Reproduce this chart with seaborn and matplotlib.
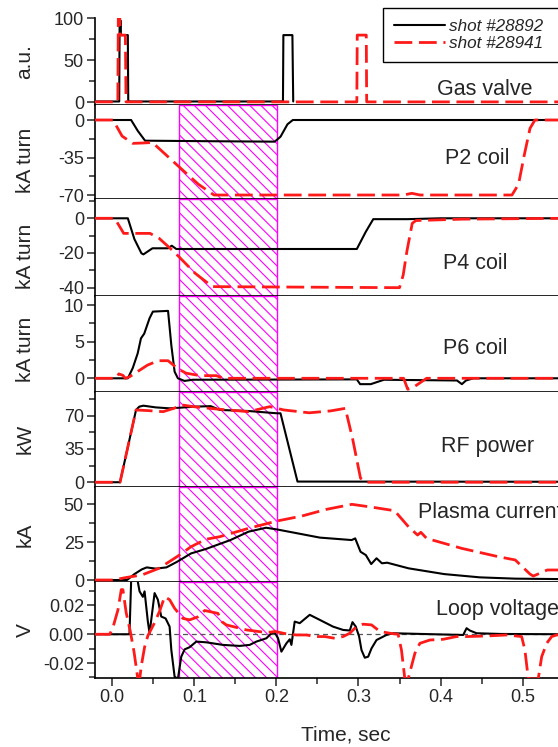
import matplotlib
matplotlib.use("Agg")

import matplotlib.pyplot as plt
from matplotlib.ticker import MultipleLocator, FormatStrFormatter
import pandas as pd
import seaborn as sns

sns.set_style("ticks")
plt.rcParams['font.family'] = ['Liberation Sans', 'DejaVu Sans']
plt.rcParams['axes.unicode_minus'] = False
plt.rcParams['hatch.linewidth'] = 0.8

shots = ["shot #28892", "shot #28941"]

# (time in s, value), shot #28892 = a, shot #28941 = b
gas_a = [(-0.021, 1), (0.0085, 1), (0.009, 97), (0.0105, 97), (0.0105, 80), (0.019, 80),
         (0.0195, 1), (0.208, 1), (0.2085, 80), (0.2195, 80), (0.2205, 1)]
gas_b = [(-0.021, 0.5), (0.0068, 0.5), (0.0074, 100), (0.0092, 100), (0.0095, 80), (0.016, 80),
         (0.0168, 0.5), (0.298, 0.5), (0.2985, 80), (0.3095, 80), (0.31, 0.5), (0.55, 0.5)]

p2_a = [(-0.021, 0), (0.023, 0), (0.031, -10), (0.040, -19.3), (0.120, -19.8), (0.198, -20.2),
        (0.205, -15.6), (0.2135, -4), (0.220, 0), (0.55, 0)]
p2_b = [(-0.021, 0), (0.001, 0), (0.012, -15), (0.025, -21.8), (0.036, -21.5), (0.049, -21),
        (0.079, -42), (0.105, -60), (0.124, -70), (0.355, -70), (0.365, -68.4), (0.375, -70),
        (0.487, -70), (0.495, -60), (0.502, -32.7), (0.509, -7.8), (0.515, 0), (0.55, 0)]

p4_a = [(-0.021, 0), (0.019, 0), (0.027, -12), (0.0356, -20.2), (0.038, -20.8), (0.049, -17.3),
        (0.068, -17.3), (0.0725, -15.8), (0.078, -17.7), (0.298, -17.7), (0.309, -7.7),
        (0.318, -0.5), (0.36, -0.5), (0.40, 0), (0.55, 0)]
p4_b = [(-0.021, 0), (0.003, 0), (0.014, -8.7), (0.046, -8.7), (0.057, -11.5), (0.075, -19.2),
        (0.083, -23), (0.101, -31.7), (0.122, -39.4), (0.350, -40), (0.3545, -32.7),
        (0.359, -19), (0.3655, -2.9), (0.370, -1.3), (0.426, -0.5), (0.55, 0)]

p6_a = [(-0.021, 0), (0.019, 0), (0.025, 1.4), (0.031, 3.4), (0.035, 5.45), (0.039, 6.1),
        (0.0455, 8.2), (0.0495, 9.1), (0.068, 9.2), (0.072, 4.5), (0.076, 0.9), (0.080, 0),
        (0.088, -0.36), (0.098, -0.2), (0.298, -0.15), (0.302, -0.8), (0.315, -0.8),
        (0.331, -0.2), (0.42, -0.3), (0.426, -0.8), (0.431, -0.3), (0.44, 0), (0.55, 0)]
p6_b = [(-0.021, 0), (0.005, 0), (0.008, 0.6), (0.013, 0.4), (0.016, 0), (0.021, 0.2),
        (0.043, 1.8), (0.056, 2.4), (0.068, 2.4), (0.080, 1.3), (0.090, 0.7), (0.107, 0.36),
        (0.127, 0.36), (0.135, 0), (0.355, 0), (0.360, -1.5), (0.366, -1.3), (0.383, 0), (0.55, 0)]

rf_a = [(-0.021, 0), (0.0095, 0), (0.029, 76), (0.033, 79.5), (0.038, 80.5), (0.053, 78.7),
        (0.070, 77.7), (0.083, 78.4), (0.101, 79.5), (0.120, 80), (0.131, 76), (0.166, 74.9),
        (0.2005, 72.5), (0.205, 72.5), (0.2257, 0.7), (0.55, 0.5)]
rf_b = [(-0.021, 0), (0.0095, 0), (0.029, 76), (0.044, 75.3), (0.062, 74.2), (0.075, 77.7),
        (0.0855, 81.2), (0.0985, 79.5), (0.127, 77), (0.166, 74.2), (0.192, 79.5), (0.209, 76),
        (0.240, 73), (0.266, 75), (0.284, 77.7), (0.293, 45), (0.3025, 4.2), (0.309, 0), (0.55, 0)]

ip_a = [(-0.021, 0), (0.018, 0), (0.027, 3.9), (0.036, 7), (0.042, 8.3), (0.053, 7.5),
        (0.066, 8.3), (0.079, 12), (0.096, 17.5), (0.114, 20.4), (0.144, 26.3), (0.166, 31.8),
        (0.1875, 34.4), (0.2005, 33.3), (0.222, 31.1), (0.253, 27.9), (0.2917, 26.3),
        (0.296, 27.4), (0.3025, 18.6), (0.309, 16.4), (0.3155, 10.5), (0.322, 14.3),
        (0.3286, 11), (0.335, 11.4), (0.361, 7.7), (0.4045, 3.9), (0.448, 1.75), (0.491, 0.9),
        (0.55, 0.6)]
ip_b = [(-0.021, 0), (0.001, 0), (0.018, 1.75), (0.036, 3.3), (0.057, 7.7), (0.079, 15.4),
        (0.096, 21.9), (0.114, 26.8), (0.131, 28.5), (0.166, 34), (0.2005, 38.8), (0.231, 42.1),
        (0.261, 46.5), (0.292, 49.8), (0.318, 47.8), (0.344, 45.6), (0.361, 35), (0.372, 29.6),
        (0.376, 31.4), (0.383, 27.4), (0.426, 20.8), (0.470, 15.4), (0.491, 13.2), (0.509, 3.9),
        (0.513, 2.6), (0.530, 6.6), (0.55, 6.6)]

lv_a = [(-0.021, 0), (0.021, 0), (0.0232, 0.04), (0.030, 0.04), (0.0333, 0.0298), (0.0373, 0.026),
        (0.0394, 0.0298), (0.0434, 0.0088), (0.0455, 0.0007), (0.0495, 0.019), (0.0516, 0.0286),
        (0.0556, 0.024), (0.0597, 0.0123), (0.065, 0.011), (0.0699, 0.0053), (0.072, -0.011),
        (0.076, -0.0295), (0.080, -0.031), (0.0841, -0.0156), (0.0882, -0.0105), (0.0943, -0.009),
        (0.1024, -0.0051), (0.1146, -0.0056), (0.1349, -0.0074), (0.1552, -0.0081),
        (0.1674, -0.0074), (0.1756, -0.0051), (0.1878, -0.0028), (0.1939, 0.0007),
        (0.198, 0.0012), (0.202, -0.0028), (0.2061, -0.0121), (0.2122, -0.0063),
        (0.2163, -0.0035), (0.2183, -0.0074), (0.2223, 0.0088), (0.2284, 0.0077),
        (0.2406, 0.0135), (0.2528, 0.010), (0.269, 0.0053), (0.2813, 0.003), (0.2894, 0.0026),
        (0.2927, 0.0084), (0.2967, 0.0053), (0.3008, -0.0016), (0.3037, -0.011),
        (0.3077, -0.0163), (0.3118, -0.0156), (0.3159, -0.0098), (0.322, -0.004),
        (0.3341, -0.0005), (0.3423, 0.0007), (0.391, 0), (0.4276, -0.0005), (0.4317, 0.0042),
        (0.4357, 0.0026), (0.4439, 0.0007), (0.473, 0.0002), (0.55, 0)]
lv_b = [(-0.021, 0), (-0.003, 0), (0.001, 0.005), (0.007, 0.017), (0.011, 0.031), (0.013, 0.031),
        (0.017, 0.015), (0.022, 0.002), (0.0265, -0.012), (0.0312, -0.031), (0.0335, -0.031),
        (0.0354, -0.022), (0.0394, -0.009), (0.0434, -0.001), (0.0516, 0.008), (0.0577, 0.016),
        (0.0638, 0.026), (0.0699, 0.024), (0.076, 0.018), (0.0861, 0.011), (0.0943, 0.010),
        (0.104, 0.012), (0.1126, 0.0165), (0.1288, 0.0145), (0.134, 0.0085), (0.139, 0.0065),
        (0.1634, 0.003), (0.1837, 0.0015), (0.1939, 0.0015), (0.198, 0.002), (0.21, 0.0005),
        (0.2244, -0.0005), (0.2366, -0.0005), (0.2467, -0.0016), (0.2589, -0.0016),
        (0.2711, -0.0028), (0.2813, -0.0016), (0.2894, 0.0007), (0.2976, 0.0053),
        (0.3056, 0.007), (0.3159, 0.0065), (0.326, 0.002), (0.3382, 0.0007), (0.3483, 0),
        (0.3524, -0.011), (0.3565, -0.031), (0.3605, -0.031), (0.3687, -0.0133),
        (0.3748, -0.0063), (0.387, -0.004), (0.4032, -0.0035), (0.4195, -0.0016),
        (0.4317, -0.0016), (0.4561, -0.0012), (0.4805, -0.0005), (0.4988, -0.0016),
        (0.5028, -0.011), (0.5069, -0.031), (0.519, -0.031), (0.5232, -0.0156),
        (0.5293, -0.0063), (0.5354, -0.0016), (0.5415, -0.0005), (0.55, 0)]

panel_labels = ["Gas valve", "P2 coil", "P4 coil", "P6 coil", "RF power", "Plasma current", "Loop voltage"]
y_labels = ["a.u.", "kA turn", "kA turn", "kA turn", "kW", "kA", "V"]
series = [(gas_a, gas_b), (p2_a, p2_b), (p4_a, p4_b), (p6_a, p6_b), (rf_a, rf_b), (ip_a, ip_b), (lv_a, lv_b)]
y_lims = [(-3.2, 100), (-74, 14), (-44.8, 10.95), (-1.83, 11.23), (-4.7, 95.2), (-1.3, 61.4), (-0.0306, 0.0363)]
y_major = [50, 35, 20, 5, 35, 25, 0.02]
y_fmt = ["%d", "%d", "%d", "%d", "%d", "%d", "%.2f"]
# where each panel's text sits (axes fraction)
text_pos = [(0.681, 0.115), (0.697, 0.371), (0.693, 0.279), (0.693, 0.391), (0.690, 0.368),
            (0.644, 0.668), (0.679, 0.657)]
ylab_y = [0.5, 0.41, 0.414, 0.446, 0.5, 0.5, 0.5]
heights = [86.7, 94.3, 96.7, 95.7, 95, 95.3, 96.3]
shade = (0.0815, 0.2006)

fig = plt.figure(figsize=(5.58, 7.47), dpi=100)
axes = fig.subplots(7, 1, sharex=True, gridspec_kw=dict(height_ratios=heights, hspace=0))
fig.subplots_adjust(left=95 / 558, right=596.5 / 558, top=1 - 18.3 / 747, bottom=1 - 678.3 / 747)

red_dash = (0, (6.4, 2.4))

for i, ax in enumerate(axes):
    a, b = series[i]
    da = pd.DataFrame(a, columns=["t", "v"])
    db = pd.DataFrame(b, columns=["t", "v"])
    if i > 0:
        ax.axvspan(*shade, facecolor="none", edgecolor="#ff00ff", hatch="\\\\\\", lw=1.0, zorder=0.5)
    if i == 6:
        ax.axhline(0, color="#555555", lw=0.9, ls=(0, (4, 3)), zorder=1)
    sns.lineplot(data=da, x="t", y="v", ax=ax, sort=False, estimator=None, color="black",
                 lw=1.5, label=shots[0] if i == 0 else None, legend=False, zorder=3)
    sns.lineplot(data=db, x="t", y="v", ax=ax, sort=False, estimator=None, color="#ff1a1a",
                 lw=2.0, linestyle=red_dash, label=shots[1] if i == 0 else None,
                 legend=False, zorder=4)
    ax.set_xlim(-0.021, 0.59)
    ax.set_ylim(*y_lims[i])
    ax.yaxis.set_major_locator(MultipleLocator(y_major[i]))
    ax.yaxis.set_minor_locator(MultipleLocator(y_major[i] / 2))
    ax.yaxis.set_major_formatter(FormatStrFormatter(y_fmt[i]))
    ax.xaxis.set_major_locator(MultipleLocator(0.1))
    ax.xaxis.set_minor_locator(MultipleLocator(0.05))
    ax.tick_params(which="both", direction="out", width=1.1, labelsize=13, pad=2)
    ax.tick_params(which="major", length=6)
    ax.tick_params(which="minor", length=4)
    ax.set_ylabel(y_labels[i], fontsize=15)
    ax.yaxis.set_label_coords(-0.1206, ylab_y[i])
    ax.set_xlabel("")
    for s in ["top", "right"]:
        ax.spines[s].set_visible(False)
    for s in ["left", "bottom"]:
        ax.spines[s].set_linewidth(1.2)
        ax.spines[s].set_color("black")
    ax.text(*text_pos[i], panel_labels[i], transform=ax.transAxes, fontsize=15.5,
            ha="left", va="baseline")

axes[-1].xaxis.set_major_formatter(FormatStrFormatter("%.1f"))
axes[-1].set_xlabel("Time, sec", fontsize=15, labelpad=14)

handles, labels = axes[0].get_legend_handles_labels()
leg = fig.legend(handles, labels, loc="upper left", bbox_to_anchor=(383 / 558, 1 - 8.3 / 747, 0.4, 0),
                 mode="expand", fancybox=False, framealpha=1, edgecolor="black", borderaxespad=0,
                 prop=dict(size=12.3, style="italic"), handlelength=3.0, handletextpad=0.25,
                 labelspacing=0.15, borderpad=0.62)
leg.get_frame().set_linewidth(1.0)

fig.savefig("out.png", dpi=100)
